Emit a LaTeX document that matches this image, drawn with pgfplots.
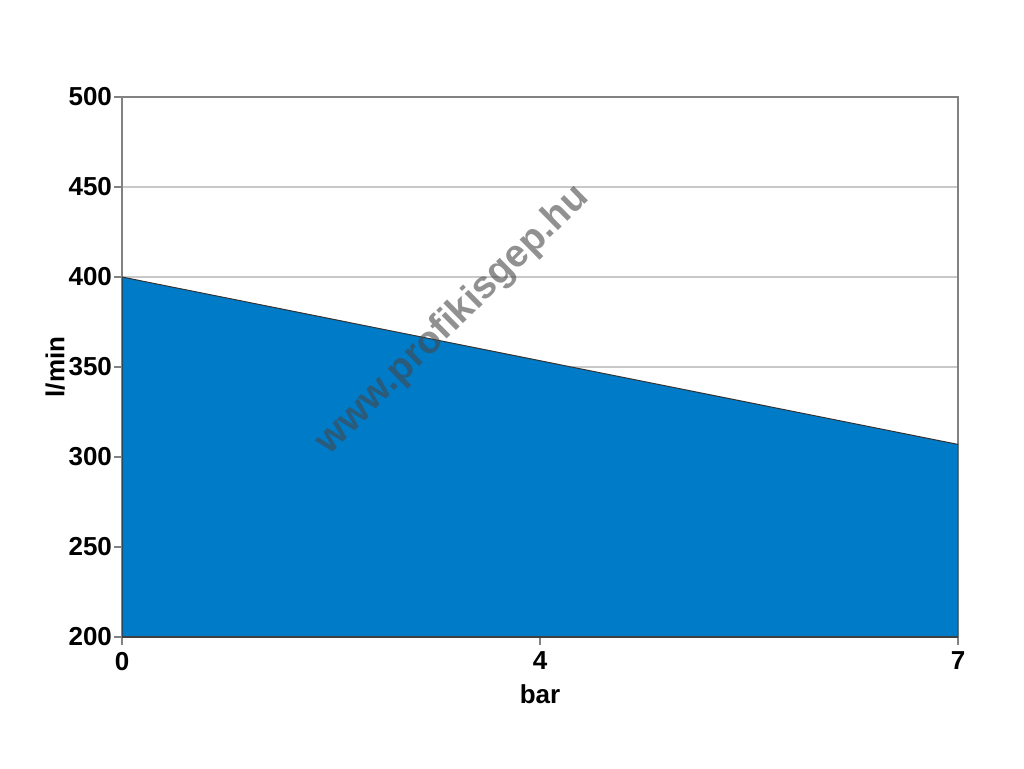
\documentclass[border=0pt]{standalone}
\usepackage{pgfplots}
\pgfplotsset{compat=1.18}
\usepackage{fontspec}
\setmainfont{Liberation Sans}
\definecolor{areablue}{RGB}{0,123,200}
\definecolor{gridgray}{RGB}{200,200,200}
\definecolor{axgray}{RGB}{130,130,130}
\begin{document}
\begin{tikzpicture}
\useasboundingbox (0pt,0pt) rectangle (512pt,384pt);
\begin{axis}[
  at={(61pt,65.5pt)}, anchor=south west,
  scale only axis, width=418pt, height=270pt,
  xmin=0, xmax=2, ymin=200, ymax=500,
  xtick={0,1,2}, xticklabels={0,4,7},
  ytick={200,250,300,350,400,450,500},
  ymajorgrids, grid style={gridgray, line width=0.8pt},
  axis line style={axgray, line width=0.8pt},
  tick align=outside, tick pos=left,
  major tick length=4pt,
  tick style={axgray, line width=0.8pt},
  /pgf/number format/assume math mode=true,
  ticklabel style={font=\bfseries\fontsize{13}{15}\selectfont},
  yticklabel style={xshift=2.5pt},
  xlabel={bar}, ylabel={l/min},
  label style={font=\bfseries\fontsize{13}{15}\selectfont},
  xlabel style={yshift=0pt},
  ylabel style={yshift=-5pt},
]
\addplot[fill=areablue, draw=black!80, line width=0.5pt] coordinates {(0,400) (1,353.5) (2,307)} \closedcycle;
\draw[black!75, line width=0.8pt] (axis cs:0,200) -- (axis cs:2,200);
\end{axis}
\node[rotate=44.5, font=\bfseries\fontsize{19.3}{22}\selectfont, text=black!72, opacity=0.6] at (226.5pt,224pt) {www.profikisgep.hu};
\end{tikzpicture}
\end{document}
